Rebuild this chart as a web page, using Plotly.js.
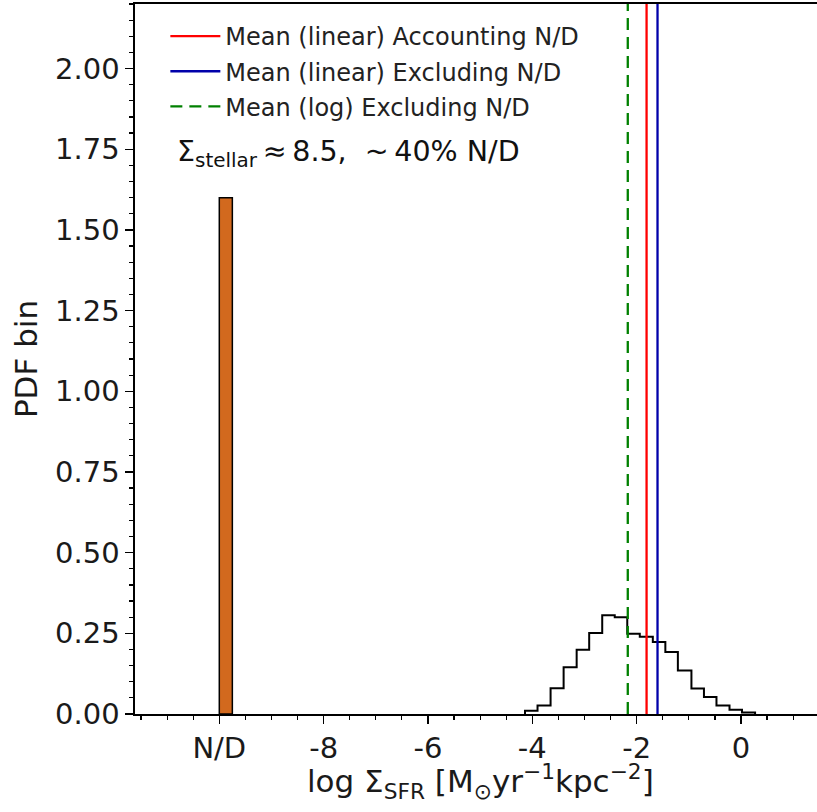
<!DOCTYPE html>
<html>
<head>
<meta charset="utf-8">
<script src="https://cdn.plot.ly/plotly-3.0.1.min.js"></script>
<style>html,body{margin:0;padding:0;background:#fff;}#chart{width:817px;height:812px;}</style>
</head>
<body>
<div id="chart"></div>
<script>
// ---- data ----
const xTickVals = [-10, -8, -6, -4, -2, 0];
const xTickText = ['N/D', '-8', '-6', '-4', '-2', '0'];

// non-detection bin (edges and PDF height)
const ndEdges = [-10.0, -9.75];
const ndHeight = 1.6;

// PDF histogram of detected values (bin edges and heights)
const histEdges = [-4.14, -3.90, -3.65, -3.40, -3.15, -2.91, -2.66, -2.42, -2.18, -1.94,
                   -1.69, -1.45, -1.21, -0.95, -0.71, -0.47, -0.22, 0.02, 0.27];
const histHeights = [0.010, 0.026, 0.080, 0.145, 0.199, 0.251, 0.306, 0.300, 0.249,
                     0.239, 0.223, 0.192, 0.135, 0.079, 0.053, 0.026, 0.013, 0.005];

// mean lines
const meanNames = ['Mean (linear) Accounting N/D', 'Mean (linear) Excluding N/D', 'Mean (log) Excluding N/D'];
const meanValues = [-1.81, -1.60, -2.17];

const xTitle = 'log Σ<sub>SFR</sub> [M<sub>⊙</sub>yr<sup>−1</sup>kpc<sup>−2</sup>]';
const yTitle = 'PDF bin';
const annotationText = 'Σ<sub>stellar</sub>\u2009≈\u20098.5,  ~\u200940% N/D';

// ---- build ----
const FONT = '"DejaVu Sans", "Liberation Sans", sans-serif';
const Y_TOP = 2.2;

const stepX = [histEdges[0]];
const stepY = [0];
for (let i = 0; i < histHeights.length; i++) {
  stepX.push(histEdges[i]);
  stepY.push(histHeights[i]);
}
stepX.push(histEdges[histEdges.length - 1]);
stepY.push(0);

const meanStyles = [
  {color: '#ff0000', dash: 'solid'},
  {color: '#0000aa', dash: 'solid'},
  {color: '#008000', dash: '12px,7px'}
];

const traces = [];
traces.push({
  type: 'bar',
  x: [(ndEdges[0] + ndEdges[1]) / 2],
  y: [ndHeight],
  width: [ndEdges[1] - ndEdges[0]],
  marker: {color: '#d2691e', line: {color: '#000', width: 1.5}},
  showlegend: false,
  hoverinfo: 'skip'
});
traces.push({
  type: 'scatter', mode: 'lines',
  x: stepX, y: stepY,
  line: {shape: 'hv', color: '#000', width: 2},
  showlegend: false,
  hoverinfo: 'skip'
});
meanValues.forEach((v, i) => {
  traces.push({
    type: 'scatter', mode: 'lines',
    x: [v, v], y: [0, Y_TOP],
    name: meanNames[i],
    legendgroup: 'g' + i,
    line: {color: meanStyles[i].color, width: 2.3, dash: meanStyles[i].dash},
    cliponaxis: true
  });
});

const layout = {
  width: 817, height: 812,
  margin: {l: 135, r: 0, t: 4, b: 98},
  paper_bgcolor: '#fff', plot_bgcolor: '#fff',
  font: {family: FONT, color: '#1a1a1a'},
  bargap: 0,
  showlegend: true,
  legend: {
    x: 0.0445, y: 0.986, xanchor: 'left', yanchor: 'top',
    bgcolor: 'rgba(0,0,0,0)', borderwidth: 0,
    itemwidth: 50,
    font: {family: FONT, size: 24, color: '#222'},
    tracegroupgap: 1
  },
  xaxis: {
    range: [-11.616, 1.457],
    tickmode: 'array', tickvals: xTickVals, ticktext: xTickText,
    ticks: 'outside', ticklen: 8, tickwidth: 1.4, tickcolor: '#000',
    minor: {tickmode: 'linear', tick0: 0, dtick: 0.5, ticks: 'outside', ticklen: 4, tickwidth: 1.2, tickcolor: '#000'},
    showgrid: false, zeroline: false,
    showline: true, linecolor: '#000', linewidth: 1.6, mirror: true,
    tickfont: {family: FONT, size: 29, color: '#1a1a1a'},
    automargin: false
  },
  yaxis: {
    range: [0, Y_TOP],
    tickmode: 'linear', tick0: 0, dtick: 0.25, tickformat: '.2f',
    ticks: 'outside', ticklen: 8, tickwidth: 1.4, tickcolor: '#000',
    minor: {tickmode: 'linear', tick0: 0, dtick: 0.05, ticks: 'outside', ticklen: 4, tickwidth: 1.2, tickcolor: '#000'},
    showgrid: false, zeroline: false,
    showline: true, linecolor: '#000', linewidth: 1.6, mirror: false,
    tickfont: {family: FONT, size: 29, color: '#1a1a1a'},
    title: {text: yTitle, font: {family: FONT, size: 31, color: '#1a1a1a'}, standoff: 8},
    automargin: false
  },
  annotations: [{
    text: annotationText,
    xref: 'paper', yref: 'paper',
    x: 0.058, y: 0.79, xanchor: 'left', yanchor: 'middle',
    showarrow: false,
    font: {family: FONT, size: 28.5, color: '#111'}
  }, {
    text: xTitle,
    xref: 'paper', yref: 'paper',
    x: 0.507, y: -0.095, xanchor: 'center', yanchor: 'middle',
    showarrow: false,
    font: {family: FONT, size: 31, color: '#1a1a1a'}
  }]
};

Plotly.newPlot('chart', traces, layout, {staticPlot: true, displayModeBar: false});
</script>
</body>
</html>
